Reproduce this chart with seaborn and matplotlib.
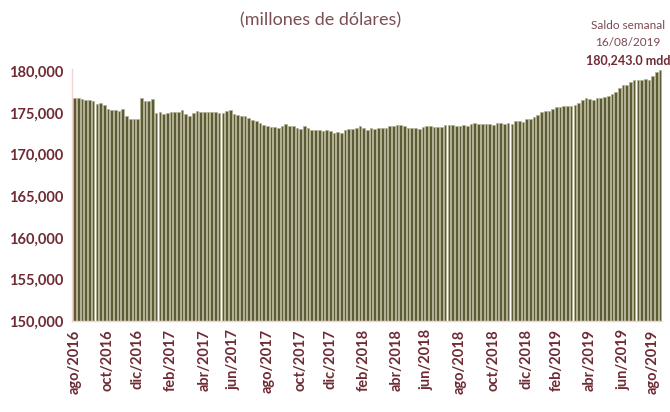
import pandas as pd
import matplotlib.pyplot as plt
import seaborn as sns

# saldo semanal de la reserva internacional (millones de dolares)
semanas = pd.date_range("2016-08-05", "2019-08-16", freq="7D")
saldo = [
    176830, 176830, 176700, 176590, 176550, 176510, 176150, 176190, 176020, 175540,
    175420, 175420, 175260, 175500, 174620, 174340, 174260, 174260, 176830, 176470,
    176470, 176750, 175020, 175100, 174900, 175020, 175140, 175140, 175140, 175340,
    174920, 174720, 175020, 175220, 175140, 175180, 175140, 175180, 175180, 175020,
    175020, 175300, 175340, 174900, 174740, 174700, 174700, 174420, 174140, 174100,
    173815, 173570, 173410, 173290, 173290, 173210, 173410, 173690, 173490, 173410,
    173210, 173090, 173410, 173210, 173010, 172930, 173010, 172890, 172970, 172810,
    172610, 172770, 172650, 173010, 173090, 173090, 173210, 173410, 173210, 173010,
    173210, 173090, 173210, 173210, 173210, 173410, 173410, 173530, 173610, 173450,
    173250, 173250, 173250, 173130, 173330, 173450, 173450, 173290, 173290, 173330,
    173570, 173530, 173530, 173410, 173450, 173530, 173490, 173730, 173850, 173730,
    173730, 173730, 173730, 173610, 173850, 173815, 173730, 173815, 173690, 174060,
    174060, 173890, 174260, 174300, 174560, 174820, 175140, 175220, 175220, 175500,
    175740, 175700, 175860, 175820, 175900, 176020, 176220, 176620, 176830, 176750,
    176620, 176830, 176830, 176950, 177110, 177310, 177510, 178030, 178430, 178430,
    178760, 179000, 179000, 179000, 179160, 179040, 179520, 179960, 180243,
]
meses_es = {2: "feb", 4: "abr", 6: "jun", 8: "ago", 10: "oct", 12: "dic"}
etiquetas = ["ago/2016", "oct/2016", "dic/2016", "feb/2017", "abr/2017", "jun/2017",
             "ago/2017", "oct/2017", "dic/2017", "feb/2018", "abr/2018", "jun/2018",
             "ago/2018", "oct/2018", "dic/2018", "feb/2019", "abr/2019", "jun/2019",
             "ago/2019"]

df = pd.DataFrame({"semana": semanas, "saldo": saldo})
df["pos"] = range(len(df))
df["mes"] = df["semana"].dt.month.map(meses_es) + "/" + df["semana"].dt.year.astype(str)

# primera semana de cada mes etiquetado
primeras = df.groupby("mes")["pos"].min()
ticks = [primeras[e] for e in etiquetas]

sns.set_style("white")
plt.rcParams["font.family"] = ["Lato", "DejaVu Sans"]
granate = "#6e2b34"

fig = plt.figure(figsize=(6.7, 4.12), dpi=100)
ax = fig.add_axes([0.1075, 0.221, 0.881, 0.611])
sns.barplot(data=df, x="pos", y="saldo", color="#5c5b33", saturation=1,
            width=0.72, edgecolor="#b3b293", linewidth=0.5, ax=ax)

ax.set_ylim(150000, 180300)
ax.set_xlim(-0.7, len(df) - 0.4)
ax.set_yticks(range(150000, 180001, 5000))
ax.set_yticklabels([f"{v:,}" for v in range(150000, 180001, 5000)],
                   fontsize=10.5, fontweight="bold", color=granate)
ax.set_xticks(ticks)
ax.set_xticklabels(etiquetas, rotation=90, fontsize=10.5, fontweight="bold",
                   color=granate)
ax.tick_params(axis="both", length=0, pad=6)
ax.set_xlabel("")
ax.set_ylabel("")
for s in ["top", "right"]:
    ax.spines[s].set_visible(False)
for s in ["left", "bottom"]:
    ax.spines[s].set_color("#f2d3d3")
    ax.spines[s].set_linewidth(1)

fig.text(0.478, 0.951, "(millones de dólares)", ha="center", va="center",
         fontsize=13, color="#7a5056")
fig.text(0.937, 0.937, "Saldo semanal", ha="center", va="center",
         fontsize=8.5, color="#7a4a52")
fig.text(0.937, 0.896, "16/08/2019", ha="center", va="center",
         fontsize=8.5, color="#7a4a52")
fig.text(0.937, 0.854, "180,243.0 mdd", ha="center", va="center",
         fontsize=9, color=granate, fontweight="bold")

fig.savefig("out.png", dpi=100)
